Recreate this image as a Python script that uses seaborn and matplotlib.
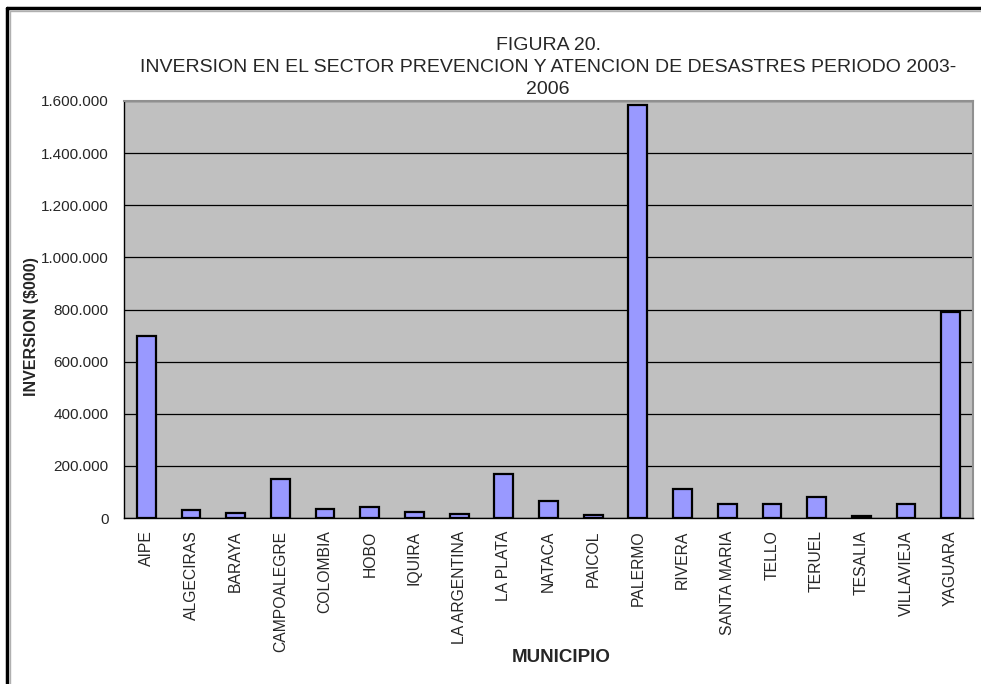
import matplotlib
matplotlib.use("Agg")
import matplotlib.pyplot as plt
from matplotlib.lines import Line2D
from matplotlib.ticker import FuncFormatter, FixedLocator
import seaborn as sns
import pandas as pd

municipios = ["AIPE", "ALGECIRAS", "BARAYA", "CAMPOALEGRE", "COLOMBIA", "HOBO",
              "IQUIRA", "LA ARGENTINA", "LA PLATA", "NATACA", "PAICOL", "PALERMO",
              "RIVERA", "SANTA MARIA", "TELLO", "TERUEL", "TESALIA", "VILLAVIEJA",
              "YAGUARA"]
inversion = [700000, 32000, 18000, 150000, 36000, 41000, 24000, 14000, 168000,
             67000, 10000, 1585000, 112000, 54000, 53000, 79000, 7000, 53000,
             790000]
y_ticks = [0, 200000, 400000, 600000, 800000, 1000000, 1200000, 1400000, 1600000]

df = pd.DataFrame({"Municipio": municipios, "Inversion": inversion})

sns.set_style("white")
plt.rcParams["font.family"] = ["Liberation Sans", "DejaVu Sans"]

fig = plt.figure(figsize=(9.81, 6.84), dpi=100)
ax = fig.add_axes([124 / 981, 1 - 518 / 684, 849 / 981, 417 / 684])
ax.set_facecolor("#C0C0C0")

sns.barplot(data=df, x="Municipio", y="Inversion", color="#9999FF",
            edgecolor="black", linewidth=1.6, width=0.42, saturation=1, ax=ax)

ax.set_ylim(0, 1600000)
ax.set_xlim(-0.5, len(municipios) - 0.5)
ax.yaxis.set_major_locator(FixedLocator(y_ticks))
ax.yaxis.set_major_formatter(FuncFormatter(lambda v, p: f"{int(v):,}".replace(",", ".")))
ax.yaxis.grid(True, color="black", linewidth=0.9)
ax.set_axisbelow(True)

# ticks between categories, labels centered
ax.set_xticks(range(len(municipios)))
ax.set_xticklabels(municipios, rotation=90, fontsize=11.3)
ax.tick_params(axis="x", which="major", length=0, pad=9)
ax.set_xticks([i - 0.5 for i in range(len(municipios) + 1)], minor=True)
ax.tick_params(axis="x", which="minor", length=5, width=1, direction="out",
               color="black")
ax.tick_params(axis="y", length=5, width=1, direction="out", color="black",
               labelsize=11, pad=6)

for side in ["left", "bottom"]:
    ax.spines[side].set_color("black")
    ax.spines[side].set_linewidth(1)
for side in ["top", "right"]:
    ax.spines[side].set_color("#909090")
    ax.spines[side].set_linewidth(1.5)

ax.set_xlabel("MUNICIPIO", fontsize=13.5, fontweight="bold")
ax.xaxis.set_label_coords(0.515, -0.315)
ax.set_ylabel("INVERSION ($000)", fontsize=11.5, fontweight="bold")
ax.yaxis.set_label_coords(-0.1, 0.46)

title_lines = ["FIGURA 20.",
               "INVERSION EN EL SECTOR PREVENCION Y ATENCION DE DESASTRES PERIODO 2003-",
               "2006"]
for i, line in enumerate(title_lines):
    fig.text(548 / 981, 1 - (45 + 22 * i) / 684, line, ha="center", va="center",
             fontsize=14)

# page frame
fig.add_artist(Line2D([7 / 981, 1], [1 - 8 / 684, 1 - 8 / 684], color="black",
                      linewidth=2.5, transform=fig.transFigure))
fig.add_artist(Line2D([7 / 981, 7 / 981], [0, 1 - 8 / 684], color="black",
                      linewidth=2.5, transform=fig.transFigure))
fig.add_artist(Line2D([10 / 981, 1], [1 - 11 / 684, 1 - 11 / 684], color="#B0B0B0",
                      linewidth=1, transform=fig.transFigure))
fig.add_artist(Line2D([10 / 981, 10 / 981], [0, 1 - 11 / 684], color="#B0B0B0",
                      linewidth=1, transform=fig.transFigure))

fig.savefig("out.png", dpi=100)
plt.close(fig)
